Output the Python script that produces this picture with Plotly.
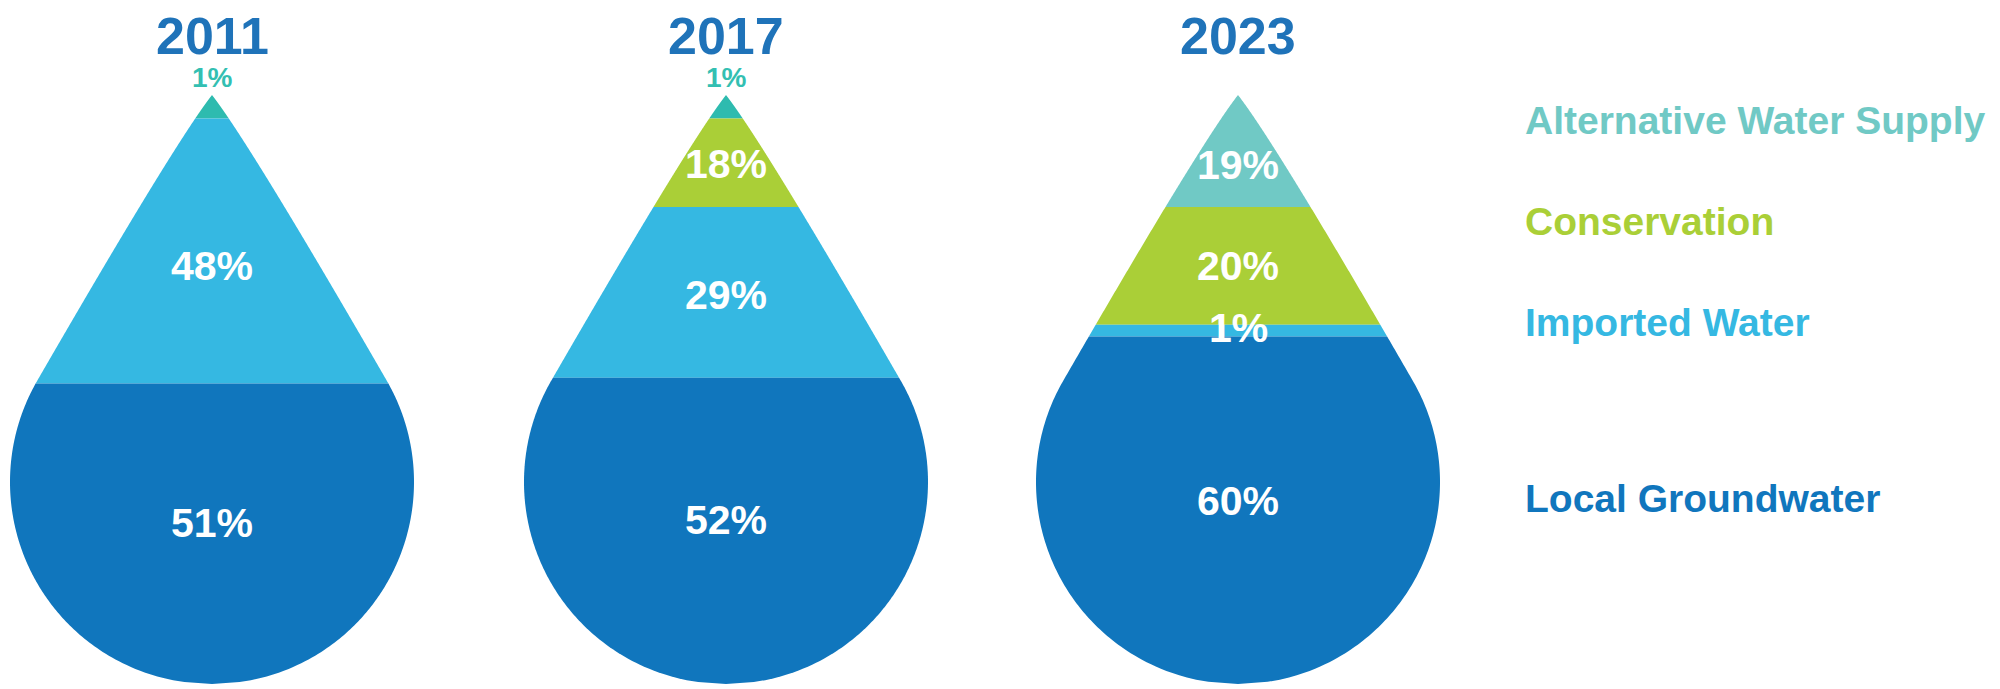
import numpy as np
import plotly.graph_objects as go

# ---------------- data ----------------
years = ["2011", "2017", "2023"]
sources = ["Alternative Water Supply", "Conservation", "Imported Water", "Local Groundwater"]
alternative = [1, 1, 19]
conservation = [0, 18, 20]
imported = [48, 29, 1]
groundwater = [51, 52, 60]

# ---------------- style / layout ----------------
W, H = 2000, 689
PAGE_OFFSET = 8          # default body margin of the html page
FONT = "Liberation Sans, Arial, Helvetica, sans-serif"
drop_cx = [212, 726, 1238]
tip_y = 95
radius = 202
bottom_y = 684
center_y = bottom_y - radius
theta = np.radians(30)   # where the side curve meets the round bottom
phi = np.radians(38)     # half-angle at the tip

source_colors = ["#70C9C5", "#AACF37", "#35B8E2", "#1076BD"]
small_tip_color = "#2EBBAF"
tip_label_color = "#33BFB2"
title_color = "#1F73B9"
title_y = 36
legend_y = [120, 221, 322, 498]
legend_x = 1523
MIN_TIP = 4     # minimum visual share of a tiny tip segment
MIN_BAND = 2    # minimum visual share of a tiny middle band


def drop_outline():
    r = radius
    P = np.array([0.0, tip_y])
    T = np.array([r * np.cos(theta), center_y - r * np.sin(theta)])
    d_tan = np.array([-np.sin(theta), -np.cos(theta)])
    d_tip = np.array([np.sin(phi), np.cos(phi)])
    A = np.column_stack([d_tip, -d_tan])
    t, s = np.linalg.solve(A, T - P)
    Q = P + t * d_tip
    u = np.linspace(0, 1, 300)[:, None]
    bez = (1 - u) ** 2 * P + 2 * (1 - u) * u * Q + u ** 2 * T
    a = np.linspace(theta, -np.pi / 2, 400)[1:]
    circ = np.column_stack([r * np.cos(a), center_y - r * np.sin(a)])
    pts = np.vstack([bez, circ])
    return pts[:, 1], pts[:, 0]


OUT_Y, OUT_X = drop_outline()


def half_width(y):
    return np.interp(y, OUT_Y, OUT_X)


def display_shares(vals):
    sh = [float(v) for v in vals]
    first = next(i for i, v in enumerate(sh) if v > 0)
    for i, v in enumerate(vals):
        if v <= 0:
            continue
        m = MIN_TIP if i == first else MIN_BAND
        if v < m:
            extra = m - v
            sh[i] = m
            for j in range(i + 1, len(sh)):
                if sh[j] > 0:
                    sh[j] -= extra
                    break
    return sh


fig = go.Figure()
annotations = []

series = [alternative, conservation, imported, groundwater]
total_h = bottom_y - tip_y

for k, year in enumerate(years):
    cx = drop_cx[k]
    vals = [s[k] for s in series]
    shares = display_shares(vals)
    first = next(i for i, v in enumerate(vals) if v > 0)
    cum = 0.0
    for i, (v, sh) in enumerate(zip(vals, shares)):
        if v <= 0:
            continue
        y0 = tip_y + cum / 100 * total_h
        cum += sh
        y1 = tip_y + cum / 100 * total_h
        yy = np.linspace(y0, y1, 160)
        hw = half_width(yy)
        xs = np.concatenate([cx + hw, (cx - hw)[::-1], [cx + hw[0]]])
        ys = np.concatenate([yy, yy[::-1], [yy[0]]])
        col = source_colors[i]
        if i == first and v < 5:
            col = small_tip_color
        fig.add_trace(go.Scatter(
            x=xs, y=ys, mode="lines", fill="toself", fillcolor=col,
            line=dict(width=0, color=col, simplify=False),
            hoverinfo="skip", showlegend=False,
        ))
        # label position
        if i == first and v < 5:
            annotations.append(dict(
                x=cx, y=tip_y - 18, text=f"<b>{v}%</b>", showarrow=False,
                font=dict(family=FONT, size=28, color=tip_label_color),
                xanchor="center", yanchor="middle"))
        else:
            mid = (y0 + y1) / 2
            cen = np.sum(yy * hw) / np.sum(hw)
            if i == first:
                ly = mid + 0.75 * (cen - mid)
            else:
                ly = (mid + cen) / 2 - 3
            annotations.append(dict(
                x=cx, y=ly, text=f"<b>{v}%</b>", showarrow=False,
                font=dict(family=FONT, size=41, color="white"),
                xanchor="center", yanchor="middle"))
    annotations.append(dict(
        x=cx, y=title_y, text=f"<b>{year}</b>", showarrow=False,
        font=dict(family=FONT, size=52, color=title_color),
        xanchor="center", yanchor="middle"))

for name, col, ly in zip(sources, source_colors, legend_y):
    annotations.append(dict(
        x=legend_x, y=ly, text=f"<b>{name}</b>", showarrow=False,
        font=dict(family=FONT, size=39, color=col),
        xanchor="left", yanchor="middle"))

fig.update_layout(
    width=W - PAGE_OFFSET, height=H - PAGE_OFFSET,
    margin=dict(l=0, r=0, t=0, b=0),
    paper_bgcolor="white", plot_bgcolor="white",
    xaxis=dict(range=[PAGE_OFFSET, W], visible=False, fixedrange=True),
    yaxis=dict(range=[H, PAGE_OFFSET], visible=False, fixedrange=True),
    annotations=annotations,
    showlegend=False,
)

fig.write_html("out.html")
